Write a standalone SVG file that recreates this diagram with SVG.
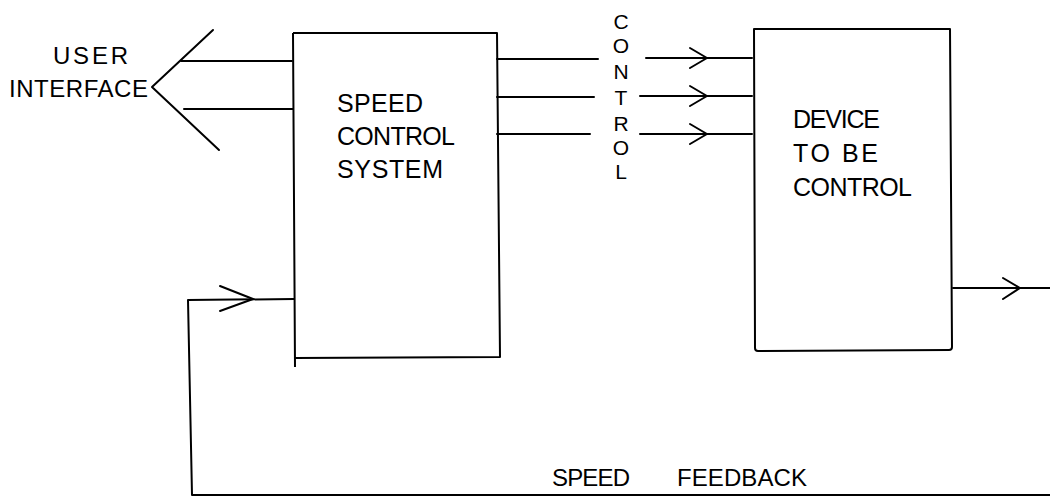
<svg xmlns="http://www.w3.org/2000/svg" width="1050" height="499" viewBox="0 0 1050 499">
<defs>
<style>
.ln{fill:none;stroke:#000;stroke-width:2;stroke-linecap:round;stroke-linejoin:round}
.box{fill:none;stroke:#000;stroke-width:2;stroke-linejoin:round}
.t{font-family:"Liberation Sans",Arial,sans-serif;font-size:25px;fill:#000}
.s{font-size:24px}
.v{font-family:"Liberation Sans",Arial,sans-serif;font-size:21px;fill:#000;text-anchor:middle}
</style>
</defs>
<rect width="1050" height="499" fill="#fff"/>
<g id="speed-control-system">
<path class="box" d="M293,33 L497,33 L500,357 L295,358 M293,33 L295,367"/>
<text class="t" x="337" y="112" textLength="86" lengthAdjust="spacing">SPEED</text>
<text class="t" x="337" y="145" textLength="118" lengthAdjust="spacing">CONTROL</text>
<text class="t" x="337" y="178" textLength="106" lengthAdjust="spacing">SYSTEM</text>
</g>
<g id="device">
<path class="box" d="M754,29 L950,29 L952,347 Q952,350 949,350 L758,351 Q755,351 755,348 Z"/>
<text class="t" x="793" y="128" textLength="87" lengthAdjust="spacing">DEVICE</text>
<text class="t" x="793" y="162" textLength="85" lengthAdjust="spacing">TO  BE</text>
<text class="t" x="793" y="196" textLength="119" lengthAdjust="spacing">CONTROL</text>
</g>
<g id="user-interface">
<path class="ln" d="M213,30 L152,87 L219,150"/>
<text class="t s" x="53" y="64" textLength="75" lengthAdjust="spacing">USER</text>
<text class="t s" x="9" y="97" textLength="139" lengthAdjust="spacing">INTERFACE</text>
</g>
<g id="control-label">
<text class="v" x="621" y="29">C</text>
<text class="v" x="621" y="53">O</text>
<text class="v" x="621" y="79">N</text>
<text class="v" x="621" y="105">T</text>
<text class="v" x="621" y="131">R</text>
<text class="v" x="621" y="155">O</text>
<text class="v" x="621" y="179">L</text>
</g>
<g id="speed-feedback-label">
<text class="t s" x="552" y="486" textLength="78" lengthAdjust="spacing">SPEED</text>
<text class="t s" x="677" y="486" textLength="130" lengthAdjust="spacing">FEEDBACK</text>
</g>
<g id="connectors">
<path class="ln" d="M181,61 L292,61 M184,109 L293,109"/>
<path class="ln" d="M497,59 L598,59 M497,97 L594,97 M497,134 L590,134"/>
<path class="ln" d="M646,58 L752,58 M640,96 L752,96 M640,134 L752,134"/>
<path class="ln" d="M690,48 L707,58 L690,68 M690,86 L707,96 L690,106 M690,124 L707,134 L690,144"/>
<path class="ln" d="M953,288 L1050,288 M1003,278 L1020,288 L1003,299"/>
<path class="ln" d="M294,299 L188,300 L192,495 L1050,495"/>
<path class="ln" d="M220,286 L253,299 L220,311"/>
</g>
</svg>
